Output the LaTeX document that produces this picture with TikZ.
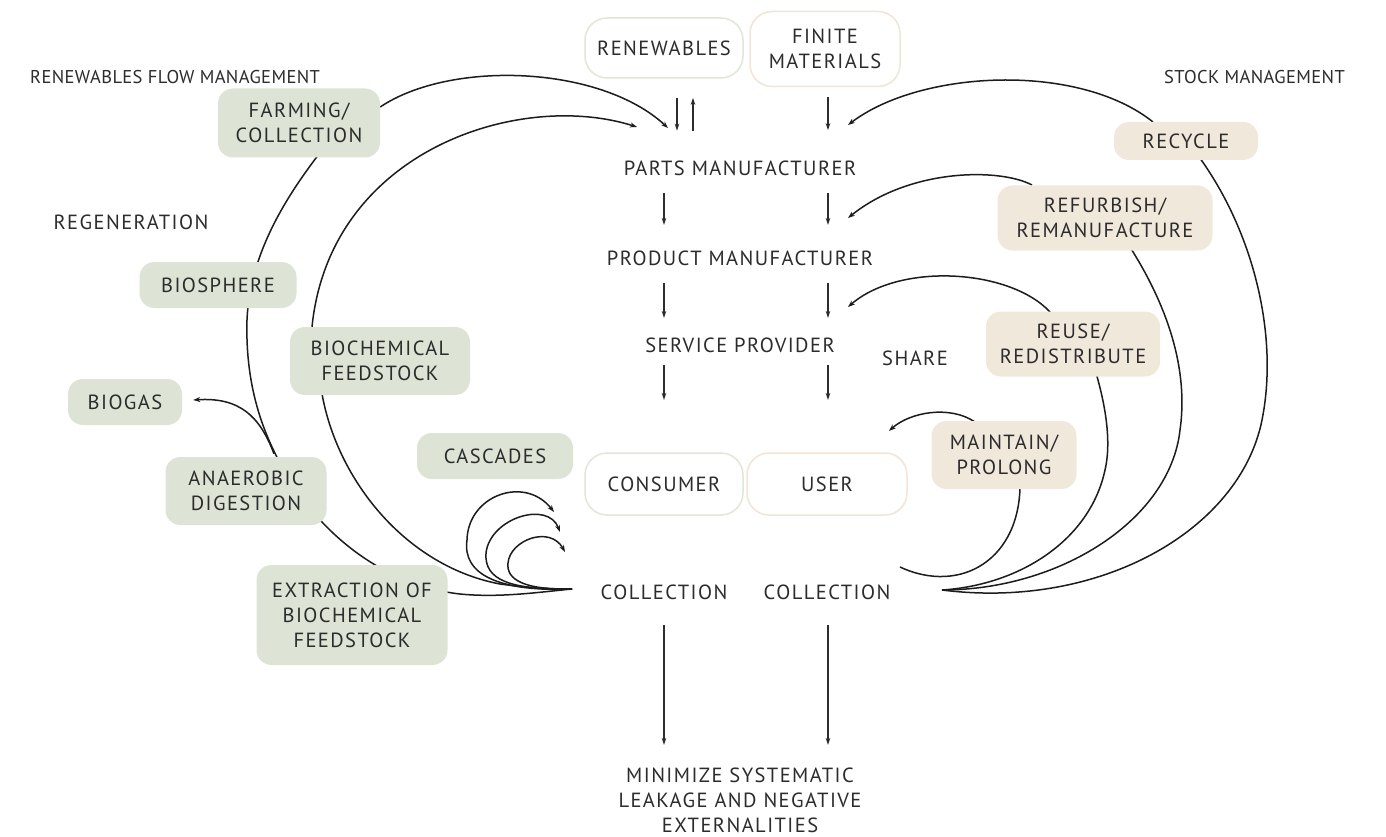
\documentclass[tikz,border=0pt]{standalone}
\usepackage{fontspec}
\setmainfont{PT Sans}[LetterSpace=7]
\newfontfamily\headfont{PT Sans}[LetterSpace=2]
\usetikzlibrary{arrows.meta,backgrounds,calc}
\definecolor{ink}{HTML}{2C2C2C}
\definecolor{stroke}{HTML}{1C1C1C}
\definecolor{sage}{HTML}{DDE4D6}
\definecolor{sand}{HTML}{F1E8DC}
\definecolor{sageedge}{HTML}{E0E7D9}
\definecolor{sandedge}{HTML}{F0E5D6}

\tikzset{
  every node/.style={font=\fontsize{20.5}{25}\selectfont, text=ink, align=center},
  lbl/.style={inner sep=0pt},
  heading/.style={inner sep=0pt, font=\headfont\fontsize{18.5}{22}\selectfont},
  greenbox/.style={fill=sage, rounded corners=15pt, inner sep=0pt},
  sandbox/.style={fill=sand, rounded corners=15pt, inner sep=0pt},
  whitebox/.style={fill=white, draw=#1, line width=1.5pt, rounded corners=22pt, inner sep=0pt},
  conn/.style={draw=stroke, line width=1.5pt},
  arr/.style={conn, -{Stealth[length=7pt,width=5pt]}},
  varrow/.style={draw=ink, line width=1.2pt, -{Stealth[length=7pt,width=4.5pt]}},
}

\begin{document}
\begin{tikzpicture}[x=1pt,y=-1pt]
\useasboundingbox (0,0) rectangle (1386,837);

% headings
\node[heading, anchor=west] (rfm) at (30,77) {RENEWABLES FLOW MANAGEMENT};
\node[heading, anchor=east] (stm) at (1345,77) {STOCK MANAGEMENT};

% central value chain
\node[whitebox=sageedge, minimum width=158pt, minimum height=60pt] (ren) at (664,48) {RENEWABLES};
\node[whitebox=sandedge, minimum width=150pt, minimum height=75pt] (fin) at (825,49) {FINITE\\MATERIALS};
\node[lbl] (parts) at (740,168) {PARTS MANUFACTURER};
\node[lbl] (prod) at (740,258) {PRODUCT MANUFACTURER};
\node[lbl] (serv) at (740,345) {SERVICE PROVIDER};
\node[whitebox=sageedge, minimum width=158pt, minimum height=62pt] (cons) at (664,484) {CONSUMER};
\node[whitebox=sandedge, minimum width=160pt, minimum height=62pt] (user) at (827,484) {USER};
\node[lbl] (colL) at (664,592) {COLLECTION};
\node[lbl] (colR) at (827,592) {COLLECTION};
\node[lbl] (leak) at (740,800) {MINIMIZE SYSTEMATIC\\LEAKAGE AND NEGATIVE\\EXTERNALITIES};

% biological cycle
\node[greenbox, minimum width=162pt, minimum height=69pt] (farm) at (299,123) {FARMING/\\COLLECTION};
\node[lbl] (regen) at (131,222) {REGENERATION};
\node[greenbox, minimum width=157pt, minimum height=46pt] (bios) at (218,285) {BIOSPHERE};
\node[greenbox, minimum width=180pt, minimum height=68pt] (biochem) at (380,361) {BIOCHEMICAL\\FEEDSTOCK};
\node[greenbox, minimum width=114pt, minimum height=46pt] (biogas) at (125,402) {BIOGAS};
\node[greenbox, minimum width=161pt, minimum height=68pt] (anaer) at (246,491) {ANAEROBIC\\DIGESTION};
\node[greenbox, minimum width=156pt, minimum height=46pt] (casc) at (495,456) {CASCADES};
\node[greenbox, minimum width=191pt, minimum height=100pt] (extr) at (352,615) {EXTRACTION OF\\BIOCHEMICAL\\FEEDSTOCK};

% technical cycle
\node[sandbox, minimum width=144pt, minimum height=38pt] (recyc) at (1186,141) {RECYCLE};
\node[sandbox, minimum width=215pt, minimum height=65pt] (refurb) at (1105,218) {REFURBISH/\\REMANUFACTURE};
\node[sandbox, minimum width=174pt, minimum height=65pt] (reuse) at (1073,344) {REUSE/\\REDISTRIBUTE};
\node[lbl] (share) at (915,358) {SHARE};
\node[sandbox, minimum width=145pt, minimum height=68pt] (maint) at (1004,455) {MAINTAIN/\\PROLONG};

% junctions and arrow targets
\coordinate (jl) at (572,589);
\coordinate (jr) at (942,590);
\coordinate (pL1) at ($(parts)+(-72,-40)$);
\coordinate (pL2) at ($(parts)+(-103,-41)$);
\coordinate (pR1) at ($(parts)+(108,-43)$);
\coordinate (pR2) at ($(prod)+(108,-40)$);
\coordinate (pR3) at ($(serv)+(108,-38)$);
\coordinate (pR4) at ($(user)+(62,-53)$);
\coordinate (cas1) at ($(cons)+(-110,28)$);
\coordinate (cas2) at ($(cons)+(-104,48)$);
\coordinate (cas3) at ($(cons)+(-99,68)$);
\coordinate (mEnd) at (900,567);

% straight flows of the value chain
\draw[varrow] ($(ren.south)+(13,19)$) -- ++(0,33);
\draw[varrow] ($(ren.south)+(29,52)$) -- ++(0,-33);
\draw[varrow] ($(fin.south)+(3,10)$) -- ++(0,33);
\draw[varrow] ($(parts.center -| cons.center)+(0,25)$) -- ++(0,32);
\draw[varrow] ($(parts.center -| user.center)+(1,25)$) -- ++(0,32);
\draw[varrow] ($(prod.center -| cons.center)+(0,25)$) -- ++(0,35);
\draw[varrow] ($(prod.center -| user.center)+(1,25)$) -- ++(0,35);
\draw[varrow] ($(serv.center -| cons.center)+(0,20)$) -- ++(0,35);
\draw[varrow] ($(serv.center -| user.center)+(1,20)$) -- ++(0,35);
\draw[varrow] ($(colL)+(0,33)$) -- ++(0,120);
\draw[varrow] ($(colR)+(1,33)$) -- ++(0,120);

\begin{scope}[on background layer]
  \fill[white] (0,0) rectangle (1386,837);
  % outer biological loop
  \draw[conn] ($(farm)+(31,17)$) .. controls +(-40,50) and +(3,-70) .. ($(bios)+(29,35)$)
    .. controls +(-2,70) and +(-25,-40) .. ($(anaer)+(44,-11)$)
    .. controls +(30,50) and +(-80,-9) .. ($(extr)+(108,-21)$)
    .. controls +(40,4) and +(-32,3) .. (jl);
  % inner biological loop
  \draw[conn] ($(biochem)+(-60,19)$) .. controls +(10,90) and +(-100,-19) .. (500,584)
    .. controls +(30,4) and +(-22,0) .. (jl);
  \draw[arr] ($(farm.east)+(0,-16)$) .. controls +(70,-47) and +(-68,-63) .. (pL1);
  \draw[arr] ($(biochem.north)+(-68,0)$) .. controls +(18,-177) and +(-117,-37) .. (pL2);
  \draw[arr] ($(anaer.north)+(28,-3)$) .. controls +(-14,-37) and +(47,-3) .. ($(biogas.east)+(11,-2)$);
  % cascades
  \draw[arr] (jl) .. controls (500,592) and (462,575) .. (467,540) .. controls (468,495) and (525,475) .. (cas1);
  \draw[arr] (jl) .. controls (510,590) and (484,580) .. (486,553) .. controls (490,518) and (548,500) .. (cas2);
  \draw[arr] (jl) .. controls (525,590) and (506,580) .. (508,563) .. controls (510,540) and (550,525) .. (cas3);
  % technical loops
  \draw[arr] ($(recyc)+(-33,-19)$) .. controls +(-75,-60) and +(72,-55) .. (pR1);
  \draw[arr] ($(refurb)+(-73,-33)$) .. controls +(-32,-17) and +(62,-50) .. (pR2);
  \draw[arr] ($(reuse)+(-23,-32)$) .. controls +(-40,-43) and +(52,-45) .. (pR3);
  \draw[arr] ($(maint)+(-29,-33)$) .. controls +(-25,-17) and +(21,-19) .. (pR4);
  \draw[conn] ($(recyc)+(4,4)$) .. controls +(60,75) and +(18,-90) .. (1262,420)
    .. controls +(-22,110) and +(158,20) .. (jr);
  \draw[conn] ($(refurb)+(15,14)$) .. controls +(40,58) and +(10,-70) .. (1180,430)
    .. controls +(-10,90) and +(118,0) .. (jr);
  \draw[conn] ($(reuse)+(19,16)$) .. controls +(13,40) and +(7,-30) .. (1105,470)
    .. controls +(-15,70) and +(78,-5) .. (jr);
  \draw[conn] ($(maint)+(16,25)$) .. controls +(2,80) and +(60,28) .. (mEnd);
\end{scope}
\end{tikzpicture}
\end{document}
